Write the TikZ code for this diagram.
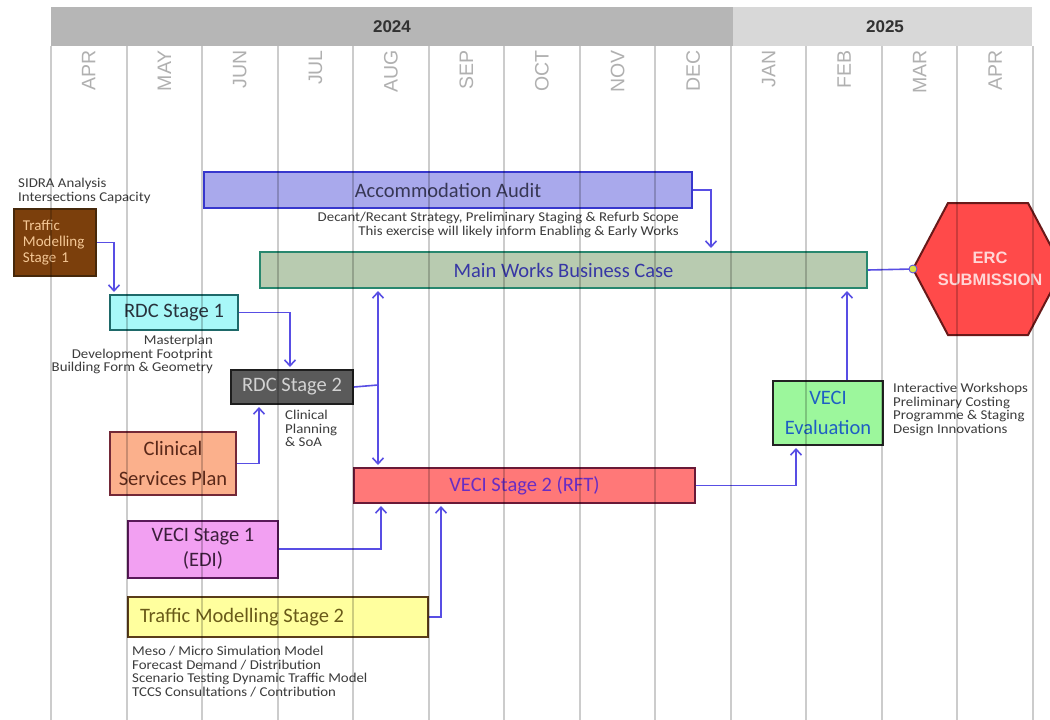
\documentclass[tikz,border=0pt]{standalone}
\usepackage{fontspec}
\setmainfont{Carlito}
\newfontfamily\arialf{Liberation Sans}
\newfontfamily\notefont[FakeStretch=1.1]{Carlito}
\usetikzlibrary{arrows.meta}
\definecolor{connc}{RGB}{88,78,228}
\definecolor{notec}{RGB}{60,60,60}
\definecolor{monthc}{RGB}{176,176,176}
\definecolor{hdrA}{RGB}{182,182,182}
\definecolor{hdrB}{RGB}{216,216,216}
\definecolor{yearc}{RGB}{50,50,50}
\definecolor{tmsAf}{RGB}{123,63,12}
\definecolor{tmsAd}{RGB}{70,40,10}
\definecolor{tmsAt}{RGB}{245,200,150}
\definecolor{rdcAf}{RGB}{168,248,248}
\definecolor{rdcAd}{RGB}{30,105,105}
\definecolor{rdcAt}{RGB}{40,50,60}
\definecolor{rdcBf}{RGB}{90,90,90}
\definecolor{rdcBd}{RGB}{30,30,30}
\definecolor{rdcBt}{RGB}{210,210,210}
\definecolor{cspf}{RGB}{251,176,140}
\definecolor{cspd}{RGB}{115,40,55}
\definecolor{cspt}{RGB}{90,40,25}
\definecolor{aaf}{RGB}{169,169,236}
\definecolor{aad}{RGB}{55,55,205}
\definecolor{aat}{RGB}{55,55,85}
\definecolor{mwf}{RGB}{184,203,176}
\definecolor{mwd}{RGB}{40,135,110}
\definecolor{mwt}{RGB}{55,55,165}
\definecolor{vef}{RGB}{156,247,156}
\definecolor{ved}{RGB}{35,35,35}
\definecolor{vet}{RGB}{30,95,195}
\definecolor{vBf}{RGB}{255,120,120}
\definecolor{vBd}{RGB}{105,25,55}
\definecolor{vBt}{RGB}{105,45,195}
\definecolor{vAf}{RGB}{242,160,242}
\definecolor{vAd}{RGB}{90,25,90}
\definecolor{vAt}{RGB}{60,30,60}
\definecolor{tmsBf}{RGB}{255,255,158}
\definecolor{tmsBd}{RGB}{90,60,25}
\definecolor{tmsBt}{RGB}{105,90,25}
\definecolor{ercf}{RGB}{255,74,74}
\definecolor{ercd}{RGB}{105,25,25}
\definecolor{erct}{RGB}{255,214,214}
\definecolor{dotf}{RGB}{215,225,70}
\begin{document}
\begin{tikzpicture}[x=1pt,y=-1pt,
  box/.style={draw, line width=2pt, inner sep=0pt, font=\fontsize{20.5}{24}\selectfont, align=center},
  note/.style={inner sep=0pt, font=\notefont\fontsize{13.5}{13.6}\selectfont, text=notec},
  conn/.style={draw=connc, line width=1.6pt},
  arr/.style={conn, -{Straight Barb[length=6pt,width=11pt,line width=1.6pt]}},
  darr/.style={conn, {Straight Barb[length=6pt,width=11pt,line width=1.6pt]}-{Straight Barb[length=6pt,width=11pt,line width=1.6pt]}},
  month/.style={rotate=90, anchor=east, inner sep=0pt, text=monthc, font=\arialf\fontsize{19.5}{19.5}\selectfont},
  year/.style={inner sep=0pt, text=yearc, font=\arialf\bfseries\fontsize{17}{17}\selectfont},
  gridline/.style={draw=black, opacity=0.2, line width=2pt}
]
\useasboundingbox (0,0) rectangle (1050,720);
\fill[white] (0,0) rectangle (1050,720);
% header
\fill[hdrA] (51,7) rectangle (733,46);
\fill[hdrB] (733,7) rectangle (1032,46);
\node[year] (y2024) at (392,27) {2024};
\node[year] (y2025) at (885,27) {2025};
\foreach \m [count=\i from 0] in {APR,MAY,JUN,JUL,AUG,SEP,OCT,NOV,DEC,JAN,FEB,MAR,APR}{
  \node[month] (m\i) at ({51+(\i+0.5)*75.54},50) {\m};
}
% boxes
\node[box, fill=tmsAf, draw=tmsAd, text=tmsAt, minimum width=82, minimum height=67, text width=64, align=left,
  font=\fontsize{15}{16}\selectfont] (tms1) at (55,242.5) {Traffic\\Modelling\\Stage 1};
\node[box, fill=rdcAf, draw=rdcAd, text=rdcAt, minimum width=128, minimum height=35] (rdc1) at (174,312.5) {RDC Stage 1};
\node[box, fill=rdcBf, draw=rdcBd, text=rdcBt, minimum width=122, minimum height=34] (rdc2) at (292,387) {RDC Stage 2};
\node[box, fill=cspf, draw=cspd, text=cspt, minimum width=126, minimum height=63, font=\fontsize{20.5}{30}\selectfont] (csp) at (173,463.5) {Clinical\\Services Plan};
\node[box, fill=aaf, draw=aad, text=aat, minimum width=488, minimum height=36] (aa) at (448,190) {Accommodation Audit};
\node[box, fill=mwf, draw=mwd, text=mwt, minimum width=607, minimum height=36] (mwbc) at (563.5,270) {Main Works Business Case};
\node[box, fill=vef, draw=ved, text=vet, minimum width=110, minimum height=64, font=\fontsize{20.5}{30}\selectfont] (vecie) at (828,413) {VECI\\Evaluation};
\node[box, fill=vBf, draw=vBd, text=vBt, minimum width=341, minimum height=35] (veci2) at (524.5,485.5) {VECI Stage 2 (RFT)};
\node[box, fill=vAf, draw=vAd, text=vAt, minimum width=150, minimum height=57, font=\fontsize{20.5}{25}\selectfont] (veci1) at (203,549) {VECI Stage 1\\(EDI)};
\node[box, fill=tmsBf, draw=tmsBd, text=tmsBt, minimum width=300, minimum height=40] (tms2) at (278,617) {\makebox[276pt][l]{Traffic Modelling Stage 2}};
% ERC hexagon
\filldraw[fill=ercf, draw=ercd, line width=2pt] (913,269) -- (948,203) -- (1028,203) -- (1063,269) -- (1028,335) -- (948,335) -- cycle;
\node[inner sep=0pt, text=erct, align=center, font=\arialf\bfseries\fontsize{16.5}{22}\selectfont] (erc) at (990,269) {ERC\\SUBMISSION};
\coordinate (ercL) at (913,269);
% notes
\node[note, anchor=north west, align=left] (n1) at (18,178) {SIDRA Analysis\\Intersections Capacity};
\node[note, anchor=north east, align=right] (n2) at (213,335) {Masterplan\\Development Footprint\\Building Form \& Geometry};
\node[note, anchor=north west, align=left] (n3) at (285,410) {Clinical\\Planning\\\& SoA};
\node[note, anchor=north east, align=right] (n4) at (679,212) {Decant/Recant Strategy, Preliminary Staging \& Refurb Scope\\This exercise will likely inform Enabling \& Early Works};
\node[note, anchor=north west, align=left] (n5) at (893,383) {Interactive Workshops\\Preliminary Costing\\Programme \& Staging\\Design Innovations};
\node[note, anchor=north west, align=left] (n6) at (132,646) {Meso / Micro Simulation Model\\Forecast Demand / Distribution\\Scenario Testing Dynamic Traffic Model\\TCCS Consultations / Contribution};
% connectors
\draw[arr] (tms1.east) -| ([xshift=5pt,yshift=2pt]rdc1.north west);
\draw[arr] (rdc1.east) -| ([xshift=60pt,yshift=2pt]rdc2.north west);
\draw[arr] (csp.east) -| ([xshift=29pt,yshift=-2pt]rdc2.south west);
\coordinate (rj) at (378,385);
\draw[conn] (rdc2.east) -- (rj);
\draw[darr] ([yshift=-2pt]mwbc.south -| rj) -- ([yshift=2pt]veci2.north -| rj);
\draw[arr] (aa.east) -| ([xshift=-157pt,yshift=3pt]mwbc.north east);
\draw[arr] ([xshift=75pt]vecie.north west) -- ([xshift=75pt,yshift=-2pt]vecie.north west |- mwbc.south);
\draw[arr] (veci2.east) -| ([xshift=24pt,yshift=-2pt]vecie.south west);
\draw[arr] (veci1.east) -| ([xshift=28pt,yshift=-2pt]veci2.south west);
\draw[arr] (tms2.east) -| ([xshift=88pt,yshift=-2pt]veci2.south west);
\draw[conn] (mwbc.east) -- (ercL);
\filldraw[fill=dotf, draw=connc, line width=0.8pt] (ercL) circle (4);
% grid lines on top
\foreach \i in {0,...,13}{
  \draw[gridline] ({51+\i*75.54},46) -- ({51+\i*75.54},720);
}
\end{tikzpicture}
\end{document}
